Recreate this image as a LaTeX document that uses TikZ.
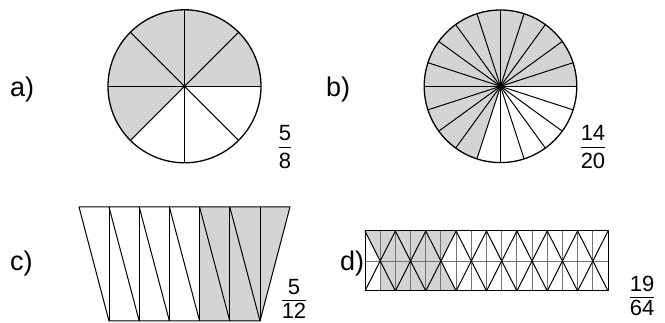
\documentclass[tikz,border=0pt]{standalone}
\usepackage{fontspec}
\setmainfont{Liberation Sans}
\begin{document}
\begin{tikzpicture}[x=1pt,y=-1pt,line join=round]
\tikzset{
  fillgray/.style={fill=black!17},
  lbl/.style={inner sep=0pt,anchor=base west,font=\fontsize{27}{30}\selectfont},
  num/.style={inner sep=0pt,anchor=base,font=\fontsize{22}{24}\selectfont},
  ln/.style={line width=1pt},
  rim/.style={line width=1.3pt},
  grid/.style={line width=0.9pt,draw=black!55},
  bar/.style={line width=1.4pt}
}
\useasboundingbox (0,0) rectangle (665,323);
% ---------- a) circle 5/8 ----------
\coordinate (ca) at (184.5,86.3);
\fill[fillgray] (ca) -- ++(0:76.5) arc[start angle=0,end angle=-225,radius=76.5] -- cycle;
\foreach \k in {0,...,7}{\draw[ln] (ca) -- ++(-45*\k:76.5);}
\draw[rim] (ca) circle[radius=76.5];
% ---------- b) circle 14/20 ----------
\coordinate (cb) at (500.5,86.3);
\fill[fillgray] (cb) -- ++(0:76.3) arc[start angle=0,end angle=-252,radius=76.3] -- cycle;
\foreach \k in {0,...,19}{\draw[ln] (cb) -- ++(-18*\k:76.3);}
\draw[rim] (cb) circle[radius=76.3];
\fill (cb) circle[radius=1.8];
% ---------- c) trapezoid 5/12 ----------
\fill[fillgray] (199.6,207) -- (290,207) -- (260,321) -- (199.6,321) -- cycle;
\foreach \i in {0,...,5}{\draw[ln] ({109+30.2*\i},207) -- ({109+30.2*\i},321);}
\foreach \i in {0,...,4}{\draw[ln] ({109+30.2*\i},207) -- ({109+30.2*(\i+1)},321);}
\draw[ln] (79,207) -- (290,207) -- (260,321) -- (109,321) -- cycle;
% ---------- d) rectangle 19/64 ----------
\def\w{30.375}
\begin{scope}[fillgray]
% cell 1
\fill (365,231) -- ({365+\w/2},231) -- ({365+\w/2},261) -- cycle;
\fill ({365+\w/2},231) -- ({365+\w},231) -- ({365+\w/2},261) -- cycle;
\fill ({365+\w},231) -- ({365+\w},261) -- ({365+\w/2},261) -- cycle;
\fill ({365+\w/2},261) -- ({365+\w},261) -- ({365+\w},291) -- cycle;
\fill ({365+\w/2},261) -- ({365+\w/2},291) -- ({365+\w},291) -- cycle;
% cell 2
\fill ({365+\w},231) rectangle ({365+2*\w},291);
% cell 3
\fill ({365+2*\w},231) -- ({365+2.5*\w},231) -- ({365+2.5*\w},261) -- cycle;
\fill ({365+2.5*\w},231) -- ({365+3*\w},231) -- ({365+2.5*\w},261) -- cycle;
\fill ({365+2*\w},231) -- ({365+2.5*\w},261) -- ({365+2*\w},261) -- cycle;
\fill ({365+2*\w},261) -- ({365+2.5*\w},261) -- ({365+2*\w},291) -- cycle;
\fill ({365+2*\w},291) -- ({365+2.5*\w},261) -- ({365+2.5*\w},291) -- cycle;
\fill ({365+2.5*\w},261) -- ({365+2.5*\w},291) -- ({365+3*\w},291) -- cycle;
\end{scope}
\foreach \k in {1,...,15}{\draw[grid] ({365+\k*\w/2},231) -- ({365+\k*\w/2},291);}
\draw[grid] (365,261) -- (608,261);
\foreach \c in {0,...,7}{
  \draw[ln] ({365+\c*\w},231) -- ({365+(\c+1)*\w},291);
  \draw[ln] ({365+(\c+1)*\w},231) -- ({365+\c*\w},291);
}
\draw[ln] (365,231) rectangle (608,291);
% ---------- labels ----------
\node[lbl] (la) at (10,97) {a)};
\node[lbl] (lb) at (326,97) {b)};
\node[lbl] (lc) at (10,271) {c)};
\node[lbl] (ld) at (340,271) {d)};
% ---------- fractions ----------
\coordinate (ya) at (0,147.5);
\node[num] (na) at (285,141) {5};
\node[num] (da) at (285,169) {8};
\draw[bar] (da.west |- ya) -- (da.east |- ya);
\node[num] (nb) at (593,141) {14};
\node[num] (db) at (593,169) {20};
\draw[bar] (db.west |- ya) -- (db.east |- ya);
\coordinate (yc) at (0,300.5);
\node[num] (nc) at (294,295) {5};
\node[num] (dc) at (294,318.5) {12};
\draw[bar] (dc.west |- yc) -- (dc.east |- yc);
\coordinate (yd) at (0,297.5);
\node[num] (nd) at (642,292) {19};
\node[num] (dd) at (642,316) {64};
\draw[bar] (dd.west |- yd) -- (dd.east |- yd);
\end{tikzpicture}
\end{document}
